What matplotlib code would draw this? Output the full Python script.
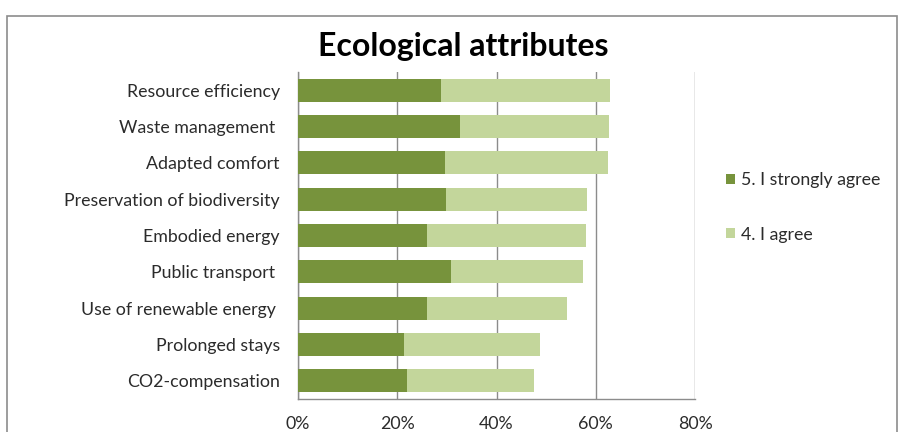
import matplotlib
matplotlib.use("Agg")
import matplotlib.pyplot as plt
from matplotlib.patches import Rectangle

# Share of respondents per attribute (percent)
attributes = ["Resource efficiency", "Waste management ", "Adapted comfort",
              "Preservation of biodiversity", "Embodied energy", "Public transport ",
              "Use of renewable energy ", "Prolonged stays", "CO2-compensation"]
strongly_agree = [28.9, 32.6, 29.7, 29.9, 25.9, 30.9, 26.0, 21.4, 21.9]
agree = [34.0, 30.1, 32.7, 28.3, 32.2, 26.6, 28.3, 27.3, 25.6]
ticks = [0, 20, 40, 60, 80]
tick_labels = ["0%", "20%", "40%", "60%", "80%"]

plt.rcParams['font.family'] = ['Lato', 'DejaVu Sans']

fig = plt.figure(figsize=(9.07, 4.32), dpi=100)
ax = fig.add_axes([0.3286, 0.0764, 0.4377, 0.7569])

dark = "#77933C"
light = "#C3D69B"
text_color = "#2b2b2b"
y = list(range(len(attributes)))

ax.barh(y, strongly_agree, height=0.64, color=dark, label="5. I strongly agree", zorder=3)
ax.barh(y, agree, left=strongly_agree, height=0.64, color=light, label="4. I agree", zorder=3)

ax.set_ylim(len(attributes) - 0.5, -0.5)
ax.set_yticks(y)
ax.set_yticklabels(attributes, fontsize=12.8, color=text_color)
ax.set_xlim(0, 80)
ax.set_xticks(ticks)
ax.set_xticklabels(tick_labels, fontsize=12.8, color=text_color)
ax.tick_params(axis="y", length=0, pad=13)
ax.tick_params(axis="x", length=0, pad=12.5)
ax.grid(axis="x", color="#8c8c8c", linewidth=1, zorder=0)

for side in ("top", "right"):
    ax.spines[side].set_visible(False)
for side in ("left", "bottom"):
    ax.spines[side].set_color("#8c8c8c")
    ax.spines[side].set_linewidth(1)

fig.text(0.511, 0.893, "Ecological attributes", ha="center", va="center",
         fontsize=23, fontweight="bold", color="black")

fig.legend(loc="upper left", bbox_to_anchor=(0.8004, 0.601), frameon=False,
           fontsize=12.8, handlelength=0.5, handleheight=0.5, handletextpad=0.34,
           labelspacing=2.15, borderpad=0, borderaxespad=0, labelcolor=text_color)

# outer chart frame
fig.patches.append(Rectangle((7 / 907, -0.1), 890 / 907, 1.1 - 16 / 432,
                             transform=fig.transFigure, fill=False,
                             edgecolor="#8c8c8c", linewidth=1.2))

fig.savefig("out.png", dpi=100)
